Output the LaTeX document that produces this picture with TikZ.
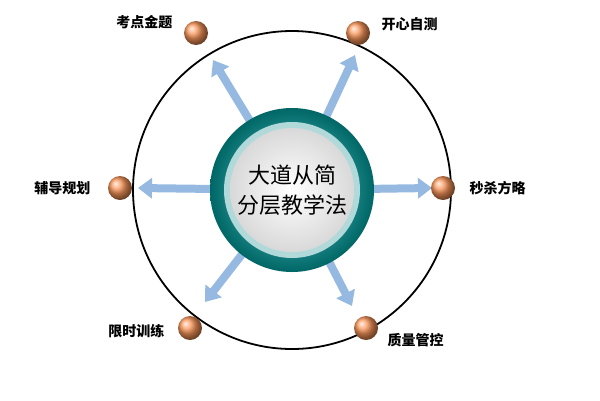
\documentclass[tikz,border=0pt]{standalone}
\usepackage{fontspec}
\setmainfont{Noto Sans CJK SC}
\usetikzlibrary{arrows.meta}
\definecolor{arrc}{RGB}{150,185,225}
\definecolor{ballc}{RGB}{250,150,90}
\begin{document}
\begin{tikzpicture}[x=1pt,y=-1pt,
  ball/.style={circle,minimum size=24pt,inner sep=0pt,shading=ball,ball color=ballc},
  lbl/.style={font=\fontsize{14}{16}\selectfont\bfseries},
  arr/.style={line width=8pt,draw=arrc,-{Triangle[length=14pt,width=20pt]}}]
\useasboundingbox (0,0) rectangle (600,400);
\fill[white] (0,0) rectangle (600,400);
\coordinate (c) at (292,190);
\draw[line width=1.8pt] (c) circle[radius=159];
\coordinate (t1) at (213,60);
\coordinate (t2) at (355,55);
\coordinate (t3) at (138,188);
\coordinate (t4) at (432,188);
\coordinate (t5) at (205,302);
\coordinate (t6) at (352,306);
\foreach \t in {t1,t2,t3,t4,t5,t6}{
  \draw[arr,shorten <=70pt] (c) -- (\t);
}
\shade[inner color=teal!50!cyan!60, outer color=teal!80!black] (c) circle[radius=82];
\fill[teal!30!white] (c) circle[radius=68];
\shade[inner color=white, outer color=gray!30] (c) circle[radius=62];
\node[font=\fontsize{22}{30}\selectfont, align=center] (txt) at (c) {大道从简\\分层教学法};
\node[ball] (b1) at (196,33) {};
\node[ball] (b2) at (358,33) {};
\node[ball] (b3) at (120,188) {};
\node[ball] (b4) at (443,188) {};
\node[ball] (b5) at (190,328) {};
\node[ball] (b6) at (366,328) {};
\node[lbl,anchor=east] (l1) at (176,22) {考点金题};
\node[lbl,anchor=west] (l2) at (378,24) {开心自测};
\node[lbl,anchor=east] (l3) at (94,188) {辅导规划};
\node[lbl,anchor=west] (l4) at (466,188) {秒杀方略};
\node[lbl,anchor=east] (l5) at (168,331) {限时训练};
\node[lbl,anchor=west] (l6) at (384,340) {质量管控};
\end{tikzpicture}
\end{document}
